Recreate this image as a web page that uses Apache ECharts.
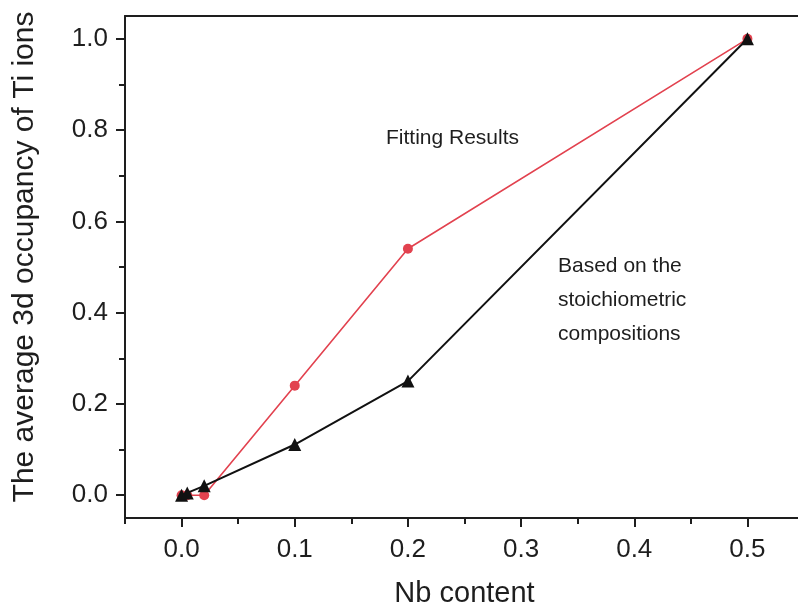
<!DOCTYPE html>
<html>
<head>
<meta charset="utf-8">
<script src="https://cdn.jsdelivr.net/npm/echarts@6/dist/echarts.min.js"></script>
<style>
  html, body { margin: 0; padding: 0; background: #ffffff; }
  #chart { width: 798px; height: 607px; }
</style>
</head>
<body>
<div id="chart"></div>
<script>
// Nb content of the samples
const nbContent = [0, 0.005, 0.02, 0.1, 0.2, 0.5];
// Ti 3d occupancy obtained from fitting
const fittingResults = [0, 0, 0, 0.24, 0.54, 1.0];
// Ti 3d occupancy expected from the nominal stoichiometry
const stoichiometric = [0, 0.005, 0.0204, 0.111, 0.25, 1.0];

const xMajorTicks = [0, 0.1, 0.2, 0.3, 0.4, 0.5];
const xMinorTicks = [-0.05, 0.05, 0.15, 0.25, 0.35, 0.45, 0.55];
const yMajorTicks = [0, 0.2, 0.4, 0.6, 0.8, 1.0];
const yMinorTicks = [0.1, 0.3, 0.5, 0.7, 0.9];

const FONT = '"Liberation Sans", Arial, sans-serif';
const INK = '#1e1e1e';

const pairs = (xs, ys) => xs.map((x, i) => [x, ys[i]]);

const chart = echarts.init(document.getElementById('chart'));

const baseX = { type: 'value', min: -0.05, max: 0.55, splitLine: { show: false } };
const baseY = { type: 'value', min: -0.05, max: 1.05, splitLine: { show: false } };
const frameLine = { show: true, onZero: false, lineStyle: { color: INK, width: 2 } };

chart.setOption({
  backgroundColor: '#ffffff',
  animation: false,
  grid: { left: 125, top: 16, right: -6, bottom: 89, containLabel: false, outerBoundsMode: 'none' },
  xAxis: [
    Object.assign({}, baseX, {
      position: 'bottom',
      name: 'Nb content',
      nameLocation: 'middle',
      nameGap: 61,
      nameTextStyle: { fontFamily: FONT, fontSize: 29, color: INK },
      axisLine: frameLine,
      axisTick: { show: true, inside: false, length: 9, customValues: xMajorTicks, lineStyle: { color: INK, width: 2 } },
      axisLabel: {
        show: true, customValues: xMajorTicks, margin: 19,
        fontFamily: FONT, fontSize: 26, color: INK,
        formatter: v => v.toFixed(1)
      }
    }),
    // minor ticks on the bottom axis
    Object.assign({}, baseX, {
      position: 'bottom',
      axisLine: { show: false, onZero: false },
      axisTick: { show: true, inside: false, length: 6, customValues: xMinorTicks, lineStyle: { color: INK, width: 2 } },
      axisLabel: { show: false }
    }),
    // top frame line
    Object.assign({}, baseX, {
      position: 'top',
      axisLine: frameLine,
      axisTick: { show: false },
      axisLabel: { show: false }
    })
  ],
  yAxis: [
    Object.assign({}, baseY, {
      position: 'left',
      name: 'The average 3d occupancy of Ti ions',
      nameLocation: 'middle',
      nameGap: 85,
      nameTextStyle: { fontFamily: FONT, fontSize: 30, color: INK, padding: [0, 0, 0, 20] },
      axisLine: frameLine,
      axisTick: { show: true, inside: false, length: 9, customValues: yMajorTicks, lineStyle: { color: INK, width: 2 } },
      axisLabel: {
        show: true, customValues: yMajorTicks, margin: 17,
        fontFamily: FONT, fontSize: 26, color: INK,
        formatter: v => v.toFixed(1)
      }
    }),
    // minor ticks on the left axis
    Object.assign({}, baseY, {
      position: 'left',
      axisLine: { show: false, onZero: false },
      axisTick: { show: true, inside: false, length: 6, customValues: yMinorTicks, lineStyle: { color: INK, width: 2 } },
      axisLabel: { show: false }
    })
  ],
  series: [
    {
      name: 'Fitting Results',
      type: 'line',
      xAxisIndex: 0, yAxisIndex: 0,
      data: pairs(nbContent, fittingResults),
      symbol: 'circle',
      symbolSize: 10,
      lineStyle: { color: '#e2424f', width: 1.6 },
      itemStyle: { color: '#e2424f' },
      z: 2
    },
    {
      name: 'Stoichiometric',
      type: 'line',
      xAxisIndex: 0, yAxisIndex: 0,
      data: pairs(nbContent, stoichiometric),
      symbol: 'triangle',
      symbolSize: 13,
      lineStyle: { color: '#111111', width: 2 },
      itemStyle: { color: '#111111' },
      z: 3
    }
  ],
  graphic: [
    {
      type: 'text', left: 386, top: 128,
      style: { text: 'Fitting Results', font: '21px ' + FONT, fill: INK }
    },
    {
      type: 'text', left: 558, top: 249,
      style: {
        text: 'Based on the\nstoichiometric\ncompositions',
        font: '21px ' + FONT, fill: INK, lineHeight: 34
      }
    }
  ]
});
</script>
</body>
</html>
